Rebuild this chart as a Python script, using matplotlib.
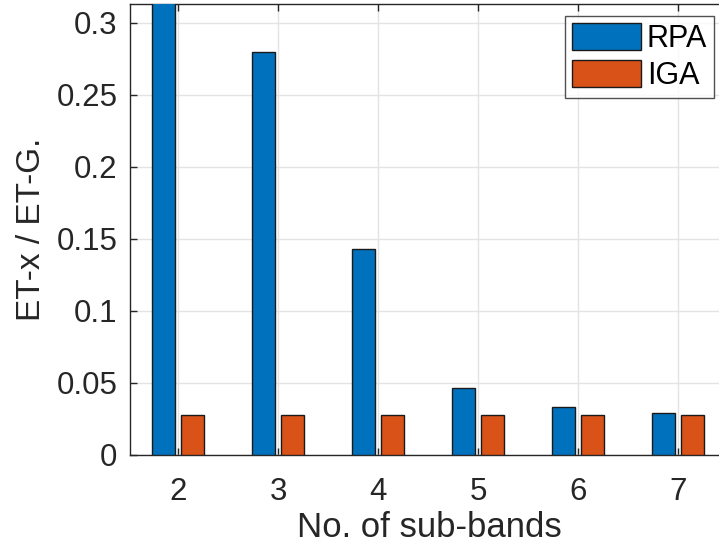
import matplotlib
matplotlib.use("Agg")
import matplotlib.pyplot as plt
import numpy as np

# data
sub_bands = [2, 3, 4, 5, 6, 7]
rpa = [0.335, 0.280, 0.143, 0.0467, 0.0333, 0.0293]
iga = [0.028, 0.028, 0.028, 0.028, 0.028, 0.028]
series_names = ["RPA", "IGA"]
y_ticks = [0, 0.05, 0.1, 0.15, 0.2, 0.25, 0.3]
y_tick_labels = ["0", "0.05", "0.1", "0.15", "0.2", "0.25", "0.3"]

plt.rcParams['font.family'] = ['Liberation Sans', 'DejaVu Sans']
txt = '#262626'

fig = plt.figure(figsize=(7.19, 5.46), dpi=100)
ax = fig.add_axes([130 / 719, 91 / 546, 598 / 719, 451 / 546])

x = np.array(sub_bands, dtype=float)
w = 0.23
off = 0.143
ax.bar(x - off, rpa, width=w, color='#0072BD', edgecolor='#1a1a1a', linewidth=1.0,
       label=series_names[0], zorder=3)
ax.bar(x + off, iga, width=w, color='#D95319', edgecolor='#1a1a1a', linewidth=1.0,
       label=series_names[1], zorder=3)

ax.set_xlim(1.52, 7.5)
ax.set_ylim(0, 0.313)
ax.set_xticks(sub_bands)
ax.set_xticklabels([str(s) for s in sub_bands])
ax.set_yticks(y_ticks)
ax.set_yticklabels(y_tick_labels)

ax.grid(True, color='#e3e3e3', linewidth=1.0, zorder=0)
ax.set_axisbelow(True)
ax.tick_params(axis='both', direction='in', length=5, width=1.0, colors=txt,
               labelsize=22.5, top=True, right=False)
ax.tick_params(axis='y', pad=9)
ax.tick_params(axis='x', pad=16)
for side in ['left', 'bottom', 'top']:
    ax.spines[side].set_color(txt)
    ax.spines[side].set_linewidth(1.0)
ax.spines['right'].set_visible(False)

ax.set_xlabel("No. of sub-bands", fontsize=25, color=txt, labelpad=3)
ax.set_ylabel("ET-x / ET-G.", fontsize=24, color=txt, labelpad=7)

leg = ax.legend(loc='upper right', bbox_to_anchor=(714 / 719, 1 - 16 / 546),
                bbox_transform=fig.transFigure, fontsize=22, frameon=True,
                fancybox=False, edgecolor=txt, handlelength=2.27, handleheight=1.0,
                handletextpad=0.18, borderpad=0.22, labelspacing=0.2,
                borderaxespad=0)
leg.get_frame().set_linewidth(1.0)
for t in leg.get_texts():
    t.set_color('black')

fig.savefig("out.png", dpi=100)
